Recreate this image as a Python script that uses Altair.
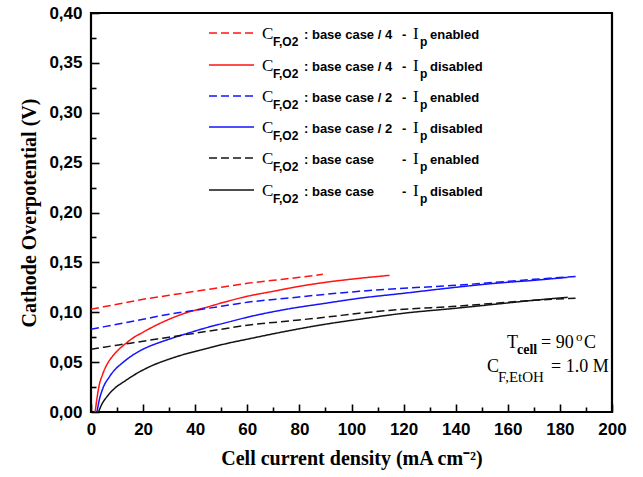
import altair as alt
import pandas as pd

# ---------------- data ----------------
series_names = ["q4_en", "q4_dis", "q2_en", "q2_dis", "b_en", "b_dis"]
series_colors = ["#ff1414", "#ff1414", "#1414ff", "#1414ff", "#141414", "#141414"]
series_dash = [[8, 4], [1, 0], [8, 4], [1, 0], [8, 4], [1, 0]]

# base case / 4, Ip enabled (red dashed)
q4_en_x = [0, 10, 20, 30, 40, 50, 60, 70, 80, 89]
q4_en_y = [0.103, 0.108, 0.113, 0.117, 0.121, 0.125, 0.129, 0.132, 0.135, 0.138]
# base case / 4, Ip disabled (red solid)
q4_dis_x = [1.6, 2.2, 3, 4.5, 6.2, 8, 10, 13, 16, 20, 25, 30, 36, 40, 45, 51, 60, 70, 80, 90, 103, 114.6]
q4_dis_y = [0.0, 0.012, 0.025, 0.038, 0.048, 0.055, 0.061, 0.068, 0.074, 0.080, 0.087, 0.093,
            0.099, 0.102, 0.1055, 0.110, 0.116, 0.121, 0.126, 0.130, 0.134, 0.137]
# base case / 2, Ip enabled (blue dashed)
q2_en_x = [0, 10, 20, 30, 40, 50, 60, 75, 90, 103, 120, 140, 155, 170, 186.5]
q2_en_y = [0.083, 0.088, 0.093, 0.098, 0.102, 0.106, 0.110, 0.114, 0.118, 0.121, 0.124,
           0.127, 0.130, 0.133, 0.136]
# base case / 2, Ip disabled (blue solid)
q2_dis_x = [2.3, 3, 4.6, 7, 9, 11.5, 16, 20, 24.5, 30, 36, 45, 51, 60, 75, 90, 103, 120, 140, 155, 170, 183]
q2_dis_y = [0.0, 0.010, 0.024, 0.035, 0.042, 0.048, 0.057, 0.063, 0.068, 0.073, 0.078, 0.085,
            0.089, 0.095, 0.103, 0.109, 0.114, 0.119, 0.125, 0.129, 0.132, 0.135]
# base case, Ip enabled (black dashed)
b_en_x = [0, 10, 20, 30, 40, 50, 60, 75, 90, 103, 120, 140, 155, 170, 186]
b_en_y = [0.063, 0.067, 0.071, 0.075, 0.079, 0.083, 0.087, 0.091, 0.095, 0.099, 0.103,
          0.106, 0.109, 0.112, 0.114]
# base case, Ip disabled (black solid)
b_dis_x = [2.9, 4, 6, 9.2, 13, 16.5, 23, 30, 36, 45, 51, 60, 75, 90, 103, 120, 140, 155, 170, 183]
b_dis_y = [0.0, 0.007, 0.015, 0.024, 0.031, 0.037, 0.046, 0.053, 0.058, 0.064, 0.068, 0.073,
           0.081, 0.088, 0.093, 0.099, 0.104, 0.108, 0.112, 0.115]

x_major = [0, 20, 40, 60, 80, 100, 120, 140, 160, 180, 200]
x_minor = [10, 30, 50, 70, 90, 110, 130, 150, 170, 190]
y_major = [0.0, 0.05, 0.10, 0.15, 0.20, 0.25, 0.30, 0.35, 0.40]
y_minor = [0.025, 0.075, 0.125, 0.175, 0.225, 0.275, 0.325, 0.375]

legend_case = [": base case / 4", ": base case / 4", ": base case / 2",
               ": base case / 2", ": base case", ": base case"]
legend_state = ["enabled", "disabled", "enabled", "disabled", "enabled", "disabled"]

# ---------------- build table ----------------
all_x = [q4_en_x, q4_dis_x, q2_en_x, q2_dis_x, b_en_x, b_dis_x]
all_y = [q4_en_y, q4_dis_y, q2_en_y, q2_dis_y, b_en_y, b_dis_y]
rows = []
for name, xs, ys in zip(series_names, all_x, all_y):
    for xv, yv in zip(xs, ys):
        rows.append({"x": xv, "y": yv, "series": name})
df = pd.DataFrame(rows)

W, H = 521, 399
SANS = "Liberation Sans"
SERIF = "Liberation Serif"

x_scale = alt.Scale(domain=[0, 200], nice=False, zero=False)
y_scale = alt.Scale(domain=[0, 0.4], nice=False, zero=False)

lines = alt.Chart(df).mark_line(strokeWidth=1.5, interpolate="monotone").encode(
    x=alt.X("x:Q", scale=x_scale, axis=alt.Axis(
        orient="bottom", values=x_major, tickSize=8, offset=-8, domain=False, grid=False,
        tickColor="black", tickWidth=1.6, labelFont=SANS, labelFontWeight="bold",
        labelFontSize=17, labelColor="black", labelPadding=9, labelFlush=False,
        title="Cell current density (mA cm\u207b\u00b2)", titleFont=SERIF, titleFontSize=20,
        titleFontWeight="bold", titleColor="black", titlePadding=11)),
    y=alt.Y("y:Q", scale=y_scale, axis=alt.Axis(
        orient="left", values=y_major, tickSize=8, offset=-8, domain=False, grid=False,
        tickColor="black", tickWidth=1.6, labelFont=SANS, labelFontWeight="bold",
        labelFontSize=17, labelColor="black", labelPadding=9, labelFlush=False,
        labelExpr="replace(format(datum.value, '.2f'), '.', ',')",
        title="Cathode Overpotential (V)", titleFont=SERIF, titleFontSize=20,
        titleFontWeight="bold", titleColor="black", titlePadding=9)),
    color=alt.Color("series:N", scale=alt.Scale(domain=series_names, range=series_colors), legend=None),
    strokeDash=alt.StrokeDash("series:N", scale=alt.Scale(domain=series_names, range=series_dash), legend=None),
)

minor = alt.Chart(df).mark_line(opacity=0).encode(
    x=alt.X("x:Q", scale=x_scale, axis=alt.Axis(
        orient="bottom", values=x_minor, tickSize=5, offset=-5, domain=False, grid=False,
        labels=False, tickColor="black", tickWidth=1.6, title="")),
    y=alt.Y("y:Q", scale=y_scale, axis=alt.Axis(
        orient="left", values=y_minor, tickSize=5, offset=-5, domain=False, grid=False,
        labels=False, tickColor="black", tickWidth=1.6, title="")),
)


def txt(s, x, y, font, size, weight="normal"):
    return alt.Chart(pd.DataFrame({"t": [s]})).mark_text(
        align="left", baseline="alphabetic", font=font, fontSize=size,
        fontWeight=weight, color="black").encode(
        x=alt.value(x), y=alt.value(y), text="t:N")


layers = [lines, minor]

# legend (pixel positions relative to the plot area)
row_y = [20, 52, 83, 114, 145, 177]
for i in range(6):
    cy = row_y[i]
    layers.append(
        alt.Chart(pd.DataFrame({"s": [series_names[i]]})).mark_rule(
            color=series_colors[i], strokeDash=series_dash[i], strokeWidth=1.5).encode(
            x=alt.value(118), x2=alt.value(163), y=alt.value(cy)))
    layers.append(txt("C", 171, cy + 6, SERIF, 17))
    layers.append(txt("F,O2", 182, cy + 13, SANS, 12, "bold"))
    layers.append(txt(legend_case[i], 213, cy + 6, SANS, 13, "bold"))
    layers.append(txt("-", 311, cy + 6, SANS, 13, "bold"))
    layers.append(txt("I", 322, cy + 6, SERIF, 17))
    layers.append(txt("p", 329, cy + 13, SANS, 12, "bold"))
    layers.append(txt(legend_state[i], 339, cy + 6, SANS, 13, "bold"))

# annotation
layers.append(txt("T", 416, 335, SERIF, 18))
layers.append(txt("cell", 426, 341, SERIF, 14, "bold"))
layers.append(txt("= 90", 450, 335, SERIF, 18))
layers.append(txt("o", 485, 328, SERIF, 13))
layers.append(txt("C", 493, 335, SERIF, 18))
layers.append(txt("C", 396, 359, SERIF, 18))
layers.append(txt("F,EtOH", 407, 369, SERIF, 15))
layers.append(txt("= 1.0 M", 460, 359, SERIF, 18))

chart = alt.layer(*layers).resolve_axis(
    x="independent", y="independent"
).properties(
    width=W, height=H,
    autosize=alt.AutoSizeParams(type="none"),
    padding={"left": 91, "top": 13, "right": 31, "bottom": 65},
    background="white",
).configure_view(stroke="black", strokeWidth=2.2)

chart.save("out.html", embed_options={"renderer": "svg", "actions": False})
